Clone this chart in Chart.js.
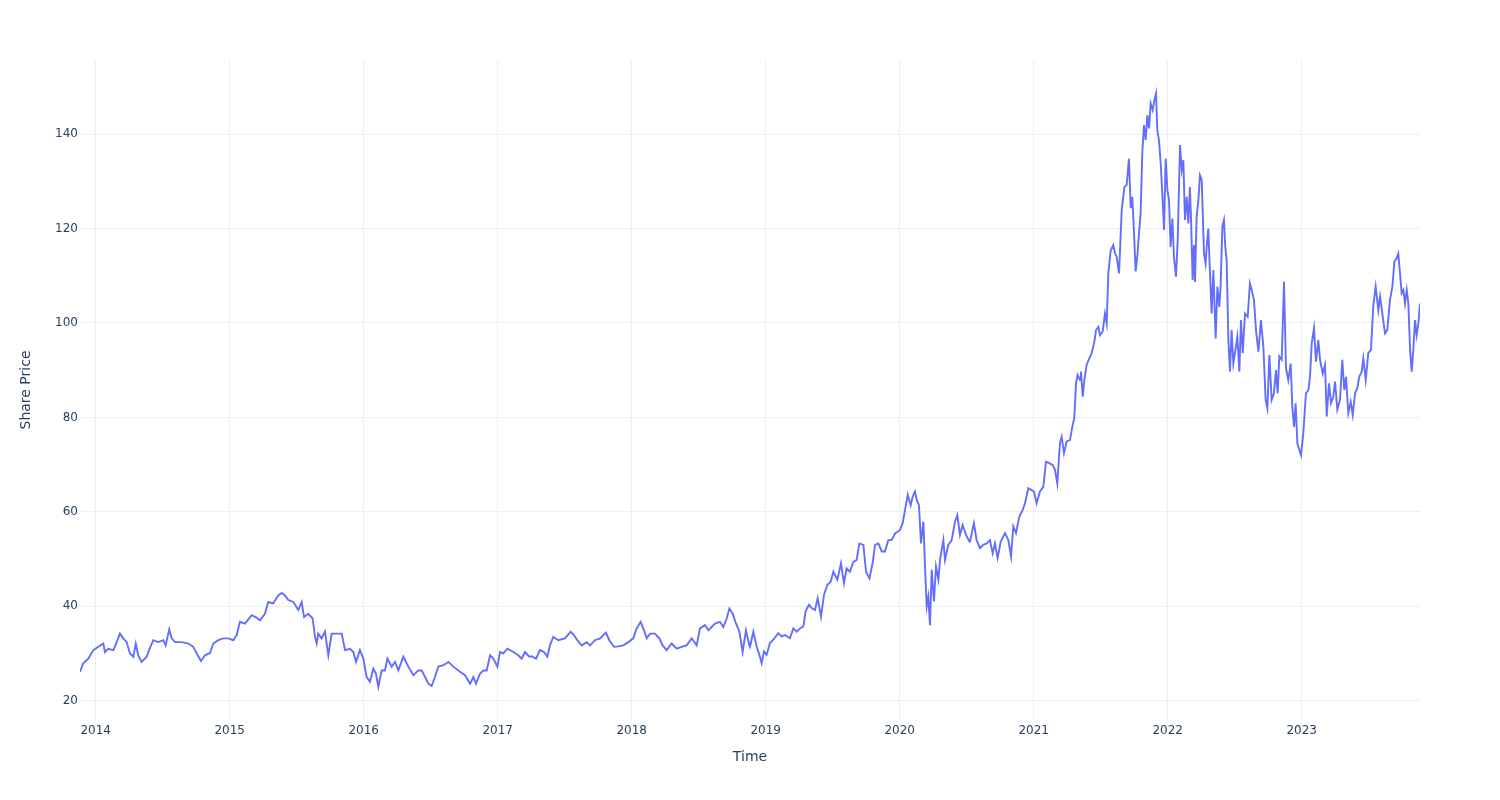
<!DOCTYPE html>
<html>
<head>
<meta charset="utf-8">
<script src="https://cdn.jsdelivr.net/npm/chart.js@4.4.1/dist/chart.umd.min.js"></script>
<style>
  html, body { margin: 0; padding: 0; background: #fff; }
  #wrap { width: 1500px; height: 800px; position: relative; }
</style>
</head>
<body>
<div id="wrap"><canvas id="price_chart"></canvas></div>
<script>
// time as decimal years
const years = [
  2013.883, 2013.907, 2013.945, 2013.982, 2014.020, 2014.057, 2014.069, 2014.094, 2014.132, 2014.157,
  2014.181, 2014.206, 2014.231, 2014.256, 2014.281, 2014.299, 2014.318, 2014.343, 2014.381, 2014.398,
  2014.430, 2014.467, 2014.505, 2014.522, 2014.549, 2014.567, 2014.592, 2014.642, 2014.691, 2014.728,
  2014.754, 2014.786, 2014.816, 2014.853, 2014.878, 2014.915, 2014.952, 2014.990, 2015.027, 2015.052,
  2015.077, 2015.114, 2015.164, 2015.201, 2015.226, 2015.263, 2015.288, 2015.325, 2015.363, 2015.388,
  2015.413, 2015.437, 2015.475, 2015.512,
  2015.537, 2015.555, 2015.587, 2015.619, 2015.637, 2015.649, 2015.661, 2015.686, 2015.711, 2015.736,
  2015.761, 2015.798, 2015.836, 2015.861, 2015.898, 2015.923, 2015.943, 2015.972, 2015.997, 2016.022,
  2016.047, 2016.072, 2016.092, 2016.109, 2016.134, 2016.159, 2016.177, 2016.209, 2016.234, 2016.259,
  2016.296, 2016.333, 2016.371, 2016.408, 2016.433, 2016.458, 2016.483, 2016.507, 2016.532, 2016.557,
  2016.595, 2016.632, 2016.669, 2016.719, 2016.756, 2016.794, 2016.818, 2016.838, 2016.868, 2016.893,
  2016.918, 2016.943, 2016.968, 2016.998, 2017.017, 2017.042, 2017.072, 2017.117, 2017.154, 2017.179,
  2017.204, 2017.236,
  2017.254, 2017.286, 2017.316, 2017.346, 2017.370, 2017.390, 2017.415, 2017.453, 2017.502, 2017.545,
  2017.569, 2017.594, 2017.627, 2017.664, 2017.689, 2017.726, 2017.764, 2017.808, 2017.833, 2017.868,
  2017.900, 2017.938, 2017.975, 2018.012, 2018.037, 2018.067, 2018.092, 2018.112, 2018.137, 2018.174,
  2018.206, 2018.231, 2018.261, 2018.298, 2018.336, 2018.373, 2018.410, 2018.448, 2018.485, 2018.510,
  2018.547, 2018.572, 2018.597, 2018.622, 2018.659, 2018.684, 2018.709, 2018.729, 2018.754, 2018.779,
  2018.804, 2018.828, 2018.853, 2018.878,
  2018.883, 2018.908, 2018.933, 2018.953, 2018.970, 2018.987, 2019.007, 2019.032, 2019.057, 2019.094,
  2019.119, 2019.144, 2019.181, 2019.206, 2019.231, 2019.256, 2019.281, 2019.298, 2019.323, 2019.343,
  2019.368, 2019.388, 2019.413, 2019.435, 2019.460, 2019.485, 2019.505, 2019.535, 2019.562, 2019.584,
  2019.604, 2019.629, 2019.654, 2019.679, 2019.699, 2019.729, 2019.749, 2019.774, 2019.798, 2019.816,
  2019.841, 2019.866, 2019.890, 2019.915, 2019.940, 2019.965, 2020.002, 2020.022, 2020.040, 2020.060,
  2020.082, 2020.097, 2020.114, 2020.127, 2020.144, 2020.159, 2020.177, 2020.189, 2020.202, 2020.214,
  2020.226, 2020.239, 2020.256, 2020.271, 2020.289, 2020.301, 2020.326, 2020.338, 2020.363, 2020.388,
  2020.413, 2020.430, 2020.450, 2020.470, 2020.495, 2020.520,
  2020.525, 2020.554, 2020.574, 2020.599, 2020.624, 2020.649, 2020.674, 2020.694, 2020.711, 2020.731,
  2020.754, 2020.786, 2020.811, 2020.831, 2020.848, 2020.868, 2020.893, 2020.918, 2020.935, 2020.960,
  2020.985, 2021.002, 2021.022, 2021.047, 2021.072, 2021.092, 2021.117, 2021.142, 2021.159, 2021.176,
  2021.196, 2021.209, 2021.226, 2021.246, 2021.271, 2021.288, 2021.303, 2021.316, 2021.328, 2021.346,
  2021.353, 2021.366, 2021.378, 2021.395, 2021.415, 2021.433, 2021.453, 2021.465, 2021.483, 2021.495,
  2021.515, 2021.532, 2021.545, 2021.557, 2021.575, 2021.594, 2021.607, 2021.619, 2021.637, 2021.657,
  2021.677, 2021.694, 2021.711, 2021.724, 2021.736, 2021.749, 2021.761, 2021.774, 2021.786, 2021.798,
  2021.811, 2021.823, 2021.836, 2021.848, 2021.861, 2021.873, 2021.888, 2021.901, 2021.913, 2021.923,
  2021.935, 2021.948, 2021.960, 2021.973, 2021.985, 2021.998, 2022.010, 2022.022, 2022.035, 2022.047,
  2022.062, 2022.075, 2022.092, 2022.105, 2022.117, 2022.129, 2022.142, 2022.154,
  2022.166, 2022.174, 2022.186, 2022.196, 2022.204, 2022.216, 2022.229, 2022.241, 2022.254, 2022.261,
  2022.271, 2022.283, 2022.291, 2022.303, 2022.316, 2022.328, 2022.341, 2022.358, 2022.371, 2022.385,
  2022.395, 2022.408, 2022.420, 2022.430, 2022.440, 2022.453, 2022.465, 2022.477, 2022.490, 2022.502,
  2022.520, 2022.535, 2022.547, 2022.560, 2022.577, 2022.597, 2022.614, 2022.627, 2022.644, 2022.659,
  2022.677, 2022.696, 2022.714, 2022.731, 2022.744, 2022.759, 2022.776, 2022.793, 2022.808, 2022.821,
  2022.833, 2022.851, 2022.868, 2022.883, 2022.900, 2022.918, 2022.930, 2022.943, 2022.955, 2022.968,
  2022.983, 2022.995, 2023.012, 2023.032, 2023.050, 2023.062, 2023.075, 2023.092, 2023.107, 2023.124,
  2023.137, 2023.157, 2023.174, 2023.187, 2023.204, 2023.219, 2023.236, 2023.249, 2023.266, 2023.286,
  2023.303, 2023.318, 2023.331, 2023.348, 2023.366, 2023.381, 2023.398, 2023.415, 2023.430, 2023.448,
  2023.460, 2023.478, 2023.497, 2023.517, 2023.535, 2023.552, 2023.572, 2023.585, 2023.602, 2023.622,
  2023.639, 2023.659, 2023.677, 2023.692, 2023.709, 2023.721, 2023.734, 2023.746, 2023.759, 2023.771,
  2023.784, 2023.796, 2023.809, 2023.821, 2023.833, 2023.846, 2023.858, 2023.871, 2023.883
];

const prices = [
  26.1, 27.9, 28.9, 30.7, 31.4, 32.1, 30.3, 31.0, 30.7, 32.4,
  34.2, 33.2, 32.4, 30.0, 29.3, 32.1, 29.6, 28.2, 29.3, 30.7,
  32.8, 32.4, 32.8, 31.7, 35.1, 33.2, 32.4, 32.4, 32.1, 31.4,
  30.0, 28.4, 29.6, 30.1, 32.1, 32.8, 33.2, 33.2, 32.8, 33.9,
  36.7, 36.3, 38.1, 37.6, 37.0, 38.4, 40.9, 40.6, 42.3, 42.8,
  42.3, 41.3, 40.9, 39.2,
  40.9, 37.7, 38.4, 37.4, 33.5, 32.1, 34.2, 33.2, 34.6, 29.6,
  34.2, 34.2, 34.2, 30.7, 31.0, 30.3, 28.2, 30.7, 28.9, 25.0,
  24.0, 26.8, 25.7, 22.9, 26.4, 26.4, 28.9, 27.2, 28.2, 26.4,
  29.3, 27.2, 25.4, 26.4, 26.4, 25.0, 23.6, 23.1, 25.0, 27.2,
  27.5, 28.2, 27.2, 26.1, 25.4, 23.6, 25.0, 23.6, 25.7, 26.4,
  26.4, 29.6, 28.9, 27.2, 30.3, 30.0, 31.0, 30.3, 29.6, 28.9,
  30.3, 29.3,
  29.4, 28.9, 30.7, 30.3, 29.3, 31.7, 33.5, 32.8, 33.2, 34.6,
  33.9, 32.8, 31.7, 32.4, 31.7, 32.8, 33.2, 34.4, 32.8, 31.4,
  31.5, 31.7, 32.4, 33.2, 35.3, 36.7, 34.9, 33.2, 34.2, 34.2,
  33.2, 31.7, 30.7, 32.1, 31.0, 31.4, 31.7, 33.2, 31.7, 35.3,
  36.0, 34.9, 35.6, 36.3, 36.7, 35.6, 37.4, 39.5, 38.4, 36.3,
  34.6, 30.3, 34.9, 31.7,
  31.4, 34.6, 31.4, 29.7, 27.9, 30.4, 29.7, 32.2, 32.9, 34.3,
  33.6, 33.9, 33.2, 35.3, 34.6, 35.3, 35.7, 38.9, 40.3, 39.6,
  39.2, 41.7, 37.8, 42.4, 44.5, 45.2, 47.3, 45.6, 49.1, 44.9,
  48.0, 47.3, 49.4, 49.8, 53.3, 53.0, 47.3, 45.9, 49.1, 53.0,
  53.3, 51.6, 51.6, 54.0, 54.0, 55.4, 56.1, 57.6, 60.4, 63.6,
  61.4, 63.2, 64.3, 62.5, 61.4, 53.3, 57.9, 48.4, 39.9, 42.0,
  36.0, 47.7, 41.0, 48.4, 45.6, 49.8, 54.0, 49.8, 53.0, 54.0,
  57.9, 59.3, 55.1, 57.2, 55.1, 53.7,
  53.7, 57.6, 54.0, 52.3, 53.0, 53.3, 54.0, 51.2, 53.3, 50.2,
  53.7, 55.5, 54.0, 50.5, 56.9, 55.5, 59.0, 60.4, 61.8, 65.0,
  64.6, 64.3, 61.8, 64.3, 65.3, 70.6, 70.3, 69.9, 68.9, 66.0,
  74.5, 75.9, 72.4, 74.9, 75.2, 78.0, 79.8, 87.2, 89.0, 87.9,
  89.7, 84.4, 87.9, 91.1, 92.5, 93.6, 96.0, 98.5, 99.2, 97.4,
  98.2, 102.0, 99.9, 110.5, 115.4, 116.5, 114.7, 114.0, 110.5, 123.9,
  128.8, 129.2, 134.8, 124.3, 126.7, 119.0, 110.9, 114.4, 119.0, 123.2,
  136.3, 141.9, 138.7, 144.0, 141.2, 146.5, 145.1, 147.2, 148.6, 140.8,
  138.7, 133.8, 127.4, 119.7, 134.8, 128.1, 126.0, 116.1, 122.1, 114.0,
  109.8, 117.6, 137.7, 132.4, 134.5, 121.8, 126.7, 121.1,
  128.8, 122.5, 109.1, 116.5, 108.7, 122.5, 126.0, 131.3, 130.3, 123.9,
  114.7, 112.6, 116.1, 120.0, 110.5, 102.0, 111.2, 96.7, 107.7, 103.4,
  107.7, 120.4, 121.8, 116.1, 113.3, 96.4, 89.7, 98.5, 91.4, 93.6,
  97.1, 89.7, 100.6, 93.6, 102.0, 101.3, 108.4, 107.0, 104.9, 98.5,
  93.9, 100.6, 95.0, 83.7, 81.9, 93.2, 83.7, 85.1, 90.0, 85.1,
  92.9, 92.2, 108.7, 90.4, 87.9, 91.4, 82.3, 78.0, 83.0, 74.5,
  73.1, 72.0, 76.6, 85.1, 85.8, 88.6, 95.7, 98.9, 91.8, 96.4,
  92.2, 89.3, 91.1, 80.2, 87.2, 83.0, 84.4, 87.6, 81.6, 83.7,
  92.2, 85.8, 88.6, 80.9, 83.3, 80.5, 85.1, 86.2, 88.6, 89.7,
  92.5, 87.9, 93.6, 94.3, 103.8, 107.7, 102.7, 105.6, 102.0, 97.8,
  98.5, 104.9, 107.7, 113.0, 113.7, 114.7, 110.5, 106.3, 107.0, 104.1,
  107.0, 104.1, 94.3, 89.7, 94.3, 100.6, 97.4, 99.9, 104.1
];

const xTicks = [2014, 2015, 2016, 2017, 2018, 2019, 2020, 2021, 2022, 2023];
const yTicks = [20, 40, 60, 80, 100, 120, 140];

const textColor = '#2a3f5f';
const gridColor = '#EBF0F8';
const fontFamily = '"DejaVu Sans", Verdana, sans-serif';

const points = years.map((t, i) => ({ x: t, y: prices[i] }));

new Chart(document.getElementById('price_chart'), {
    type: 'line',
    data: {
        datasets: [{
            label: 'Share Price',
            data: points,
            borderColor: '#636efa',
            borderWidth: 1.9,
            pointRadius: 0,
            tension: 0,
            fill: false
        }]
    },
    options: {
        responsive: true,
        maintainAspectRatio: false,
        animation: false,
        events: [],
        layout: { padding: { top: 60, right: 80, left: 0, bottom: 0 } },
        plugins: {
            legend: { display: false },
            tooltip: { enabled: false }
        },
        scales: {
            x: {
                type: 'linear',
                min: years[0],
                max: years[years.length - 1],
                afterBuildTicks: (scale) => { scale.ticks = xTicks.map(v => ({ value: v })); },
                afterFit: (scale) => { scale.height = 80; },
                grid: { color: gridColor, lineWidth: 1, drawTicks: false },
                border: { display: false },
                ticks: {
                    color: textColor,
                    font: { family: fontFamily, size: 12 },
                    padding: 4,
                    maxRotation: 0,
                    autoSkip: false,
                    callback: (v) => String(v)
                },
                title: {
                    display: true,
                    text: 'Time',
                    color: textColor,
                    font: { family: fontFamily, size: 14 },
                    padding: { top: 0, bottom: 34 }
                }
            },
            y: {
                min: 15.9,
                max: 155.7,
                afterBuildTicks: (scale) => { scale.ticks = yTicks.map(v => ({ value: v })); },
                afterFit: (scale) => { scale.width = 80; },
                grid: { color: gridColor, lineWidth: 1, drawTicks: false },
                border: { display: false },
                ticks: {
                    color: textColor,
                    font: { family: fontFamily, size: 12 },
                    padding: 2,
                    callback: (v) => String(v)
                },
                title: {
                    display: true,
                    text: 'Share Price',
                    color: textColor,
                    font: { family: fontFamily, size: 14 },
                    padding: { top: 18, bottom: 0 }
                }
            }
        }
    }
});
</script>
</body>
</html>
